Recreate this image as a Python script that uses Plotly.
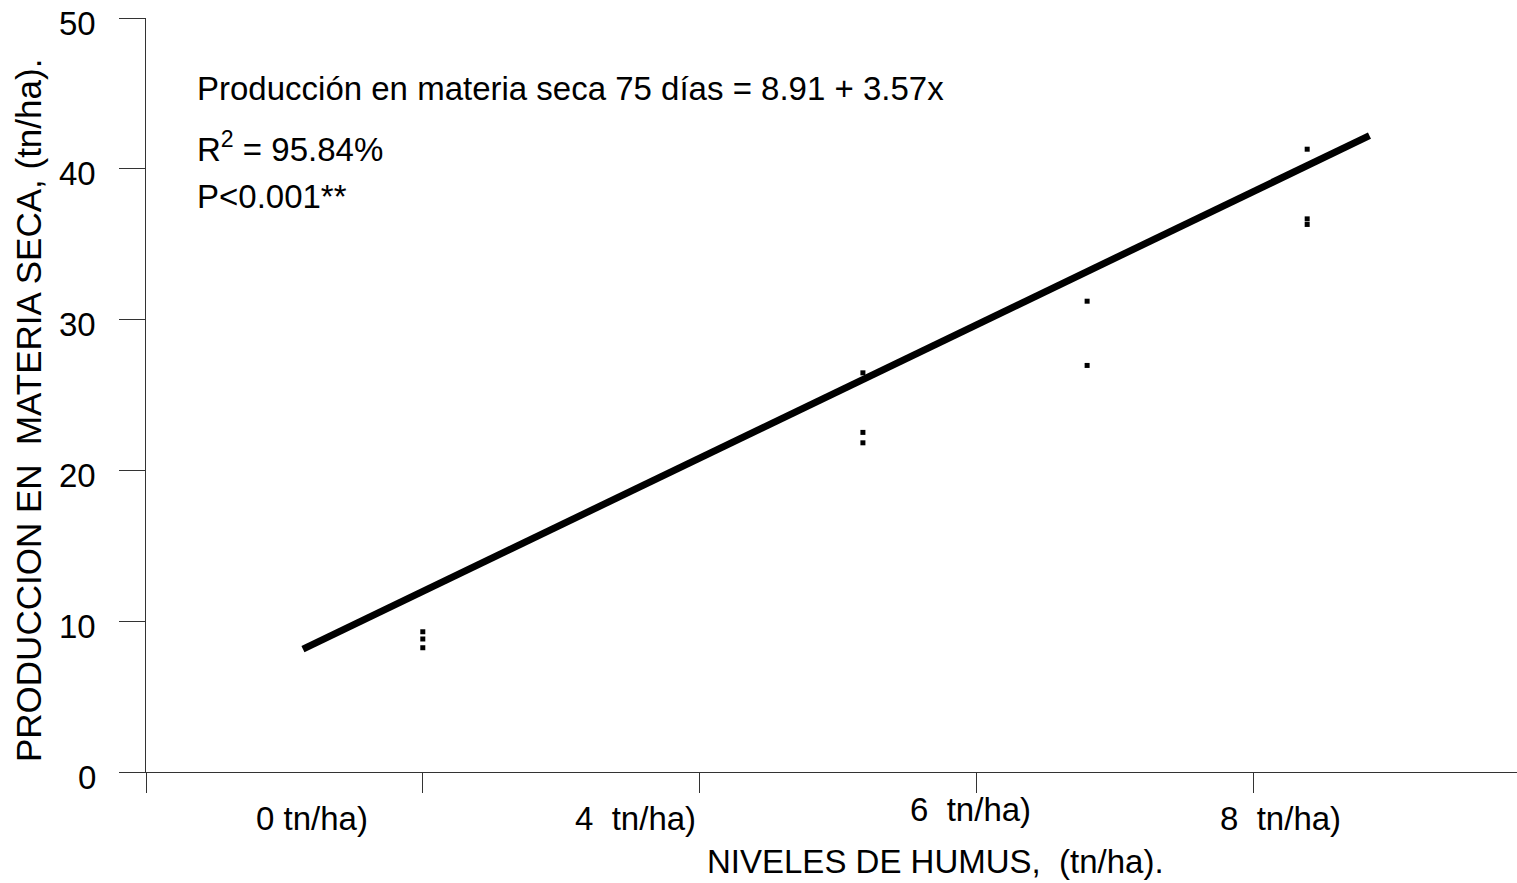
import plotly.graph_objects as go

# Data (x in level-position units, y in tn/ha)
pts_x = [1.0, 1.0, 1.0, 2.59, 2.59, 2.59, 3.40, 3.40, 4.195, 4.195, 4.195]
pts_y = [9.30, 8.82, 8.24, 26.47, 22.52, 21.83, 31.22, 26.96, 41.30, 36.68, 36.31]

fit_x = [0.567, 4.42]
fit_y = [8.15, 42.2]

x_tick_text = ["0 tn/ha)", "4  tn/ha)", "6  tn/ha)", "8  tn/ha)"]
x_tick_pos = [0.60, 1.767, 2.977, 4.097]
x_tick_ypx = [818, 818, 810, 818]

y_ticks = [0, 10, 20, 30, 40, 50]

FONT = "Liberation Sans, Arial, sans-serif"
FS = 33

X0, XU = 146, 276.8      # pixel of x=0, pixels per x unit
YTOP, YBOT = 18, 772     # pixel rows of plot top/bottom
PW = 1517 - X0


def py(ypx):
    return (YBOT - ypx) / (YBOT - YTOP)


fig = go.Figure()
fig.add_trace(go.Scatter(x=fit_x, y=fit_y, mode="lines",
                         line=dict(color="black", width=7), showlegend=False,
                         hoverinfo="skip"))
fig.add_trace(go.Scatter(x=pts_x, y=pts_y, mode="markers",
                         marker=dict(symbol="square", size=5, color="black",
                                     line=dict(width=0)),
                         showlegend=False))

annotations = []
# y tick labels
for v in y_ticks:
    annotations.append(dict(x=(98 - X0) / PW, y=v / 50, xref="paper", yref="paper",
                            text=str(v), showarrow=False, xanchor="right",
                            yanchor="middle", yshift=-5,
                            font=dict(family=FONT, size=FS, color="black")))
# x category labels
for t, xp, ypx in zip(x_tick_text, x_tick_pos, x_tick_ypx):
    annotations.append(dict(x=xp, y=py(ypx), xref="x", yref="paper", text=t,
                            showarrow=False, xanchor="center", yanchor="middle",
                            font=dict(family=FONT, size=FS, color="black")))

annotations.append(dict(x=(935 - X0) / XU, y=py(861), xref="x", yref="paper",
                        text="NIVELES DE HUMUS,  (tn/ha).", showarrow=False,
                        xanchor="center", yanchor="middle",
                        font=dict(family=FONT, size=FS, color="black")))
annotations.append(dict(x=(29 - X0) / PW, y=py(411), xref="paper", yref="paper",
                        text="PRODUCCION EN  MATERIA SECA, (tn/ha).", showarrow=False,
                        textangle=-90, xanchor="center", yanchor="middle",
                        font=dict(family=FONT, size=35, color="black")))

stats = ["Producción en materia seca 75 días = 8.91 + 3.57x",
         "R<sup>2</sup> = 95.84%",
         "P&lt;0.001**"]
stats_ypx = [88, 147, 196]
for t, ypx in zip(stats, stats_ypx):
    annotations.append(dict(x=(195 - X0) / XU, y=py(ypx), xref="x", yref="paper",
                            text=t, showarrow=False, xanchor="left", yanchor="middle",
                            font=dict(family=FONT, size=FS, color="black")))

fig.update_layout(
    width=1517, height=883,
    margin=dict(l=X0, r=0, t=YTOP, b=883 - YBOT),
    paper_bgcolor="white", plot_bgcolor="white",
    font=dict(family=FONT, size=FS, color="black"),
    xaxis=dict(range=[0, PW / XU], tickvals=[0, 1, 2, 3, 4],
               showticklabels=False, ticks="outside", ticklen=20, tickcolor="#333",
               tickwidth=1, showline=True, linecolor="#333", linewidth=1,
               showgrid=False, zeroline=False),
    yaxis=dict(range=[0, 50], tickvals=y_ticks, ticks="outside", ticklen=26,
               tickcolor="#333", tickwidth=1, showline=True, linecolor="#333",
               linewidth=1, showgrid=False, zeroline=False,
               showticklabels=False),
    annotations=annotations,
)

fig.write_html("out.html")
